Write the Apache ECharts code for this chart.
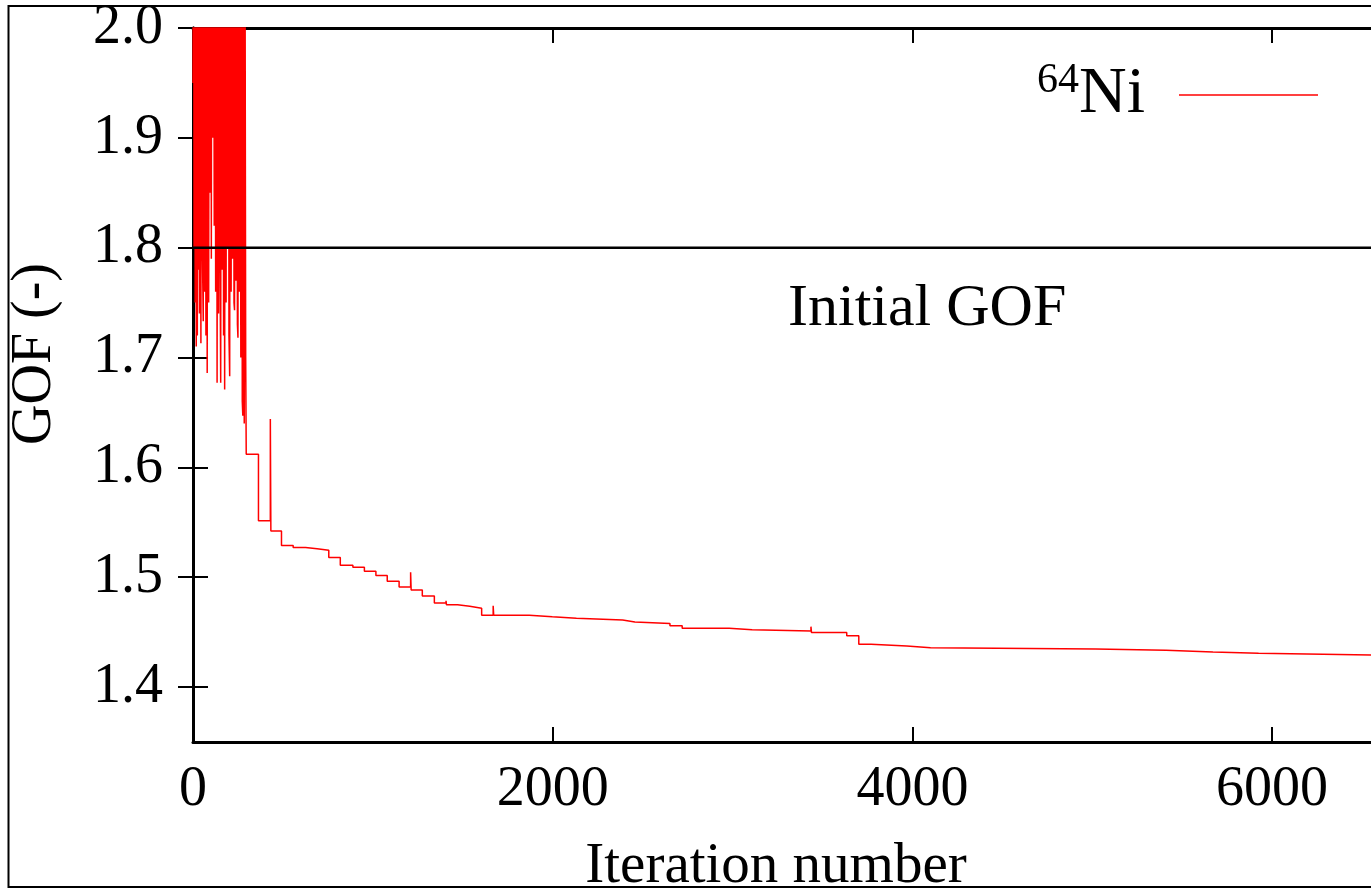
<!DOCTYPE html>
<html><head><meta charset="utf-8">
<script src="https://cdn.jsdelivr.net/npm/echarts@6/dist/echarts.min.js"></script>
<style>html,body{margin:0;padding:0;background:#fff}#c{width:1371px;height:889px}</style>
</head><body><div id="c"></div>
<script>
const seriesName = '64Ni';
const iterations = [
  0,3,6,9,12,15,18,21,24,27,30,33,36,40,44,48,52,57,60,64,68,72,76,79,83,87,91,94,98,102,
  106,110,114,118,122,126,130,134,138,142,146,150,154,158,162,166,170,173,176,180,184,188,192,196,200,204,208,212,216,220,
  224,228,231,235,239,243,247,250,254,258,262,266,270,274,277,281,285,289,293,
  296,364,430,433,492,557,626,690,755,819,889,953,1017,1080,1146,1210,1213,1275,1342,1407,1409,1471,1539,1605,1669,1672,1870,1998,2132,
  2389,2457,2652,2720,2849,2852,2981,3109,3436,3439,3635,3702,3770,3969,4101,5019,5410,5671,5925,6550
];
const gof = [
  1.95,2.30,1.80,2.40,1.75,2.20,1.71,2.50,1.72,2.30,1.78,2.40,1.74,2.20,1.713,2.30,1.80,1.733,2.40,1.76,2.20,1.72,2.30,1.686,2.40,1.75,2.20,1.85,2.30,1.79,
  2.50,1.90,2.30,1.82,2.20,1.76,2.40,1.677,2.30,1.74,2.20,1.80,1.677,2.30,1.78,2.40,1.72,2.20,1.671,2.30,1.75,2.20,1.80,2.40,1.72,1.683,2.30,1.76,2.20,1.79,
  2.30,1.75,1.743,2.30,1.77,2.20,1.73,1.718,2.30,1.76,2.20,1.70,2.30,1.66,1.647,2.20,1.64,2.10,1.70,
  1.612,1.5515,1.644,1.542,1.529,1.527,1.526,1.5245,1.518,1.511,1.509,1.5055,1.5015,1.4963,1.491,1.5046,1.4884,1.483,1.4766,1.4785,1.475,1.4736,1.4718,1.4654,1.474,1.4654,1.464,1.4627,1.4611,
  1.4593,1.4578,1.4559,1.4535,1.4545,1.4535,1.4523,1.4511,1.455,1.4496,1.4467,1.439,1.4374,1.4359,1.4347,1.4335,1.432,1.4308,1.4292,1.4292
];
const initialGOF = 1.8;
const initialLabel = 'Initial GOF';
const xTicks = [0, 2000, 4000, 6000];
const xTickLabels = ['0', '2000', '4000', '6000'];
const yTicks = [1.4, 1.5, 1.6, 1.7, 1.8, 1.9, 2.0];
const yTickLabels = ['1.4', '1.5', '1.6', '1.7', '1.8', '1.9', '2.0'];
const xTitle = 'Iteration number';
const yTitle = 'GOF (-)';

const FONT = 'Liberation Serif';
const xMin = 0, xMax = 6550, yMin = 1.35, yMax = 2.0;

const lineData = iterations.map((it, i) => [it, gof[i]]);
const refData = [[xMin, initialGOF], [xMax, initialGOF]];

function lbl(ticks, labels) {
  return v => {
    const i = ticks.findIndex(t => Math.abs(t - v) < 1e-6);
    return i >= 0 ? labels[i] : '';
  };
}

const chart = echarts.init(document.getElementById('c'), null, {renderer: 'canvas'});
const axisLine = {show: true, lineStyle: {color: '#000', width: 3}};
const tickStyle = {color: '#000', width: 2};

chart.setOption({
  animation: false,
  backgroundColor: '#fff',
  grid: {left: 193, top: 28, right: -11, bottom: 147, containLabel: false},
  xAxis: [{
    type: 'value', min: xMin, max: xMax, position: 'bottom',
    axisLine: axisLine,
    axisTick: {show: true, inside: true, length: 15, lineStyle: tickStyle, customValues: xTicks},
    axisLabel: {show: true, margin: 20, customValues: xTicks, formatter: lbl(xTicks, xTickLabels),
      fontFamily: FONT, fontSize: 56, color: '#000'},
    splitLine: {show: false}
  }, {
    type: 'value', min: xMin, max: xMax, position: 'top',
    axisLine: axisLine,
    axisTick: {show: true, inside: true, length: 15, lineStyle: tickStyle, customValues: xTicks},
    axisLabel: {show: false},
    splitLine: {show: false}
  }],
  yAxis: [{
    type: 'value', min: yMin, max: yMax, position: 'left',
    axisLine: axisLine,
    axisTick: {show: true, inside: true, length: 15, lineStyle: tickStyle, customValues: yTicks},
    axisLabel: {show: true, margin: 30, customValues: yTicks, formatter: lbl(yTicks, yTickLabels),
      fontFamily: FONT, fontSize: 56, color: '#000'},
    splitLine: {show: false}
  }, {
    type: 'value', min: yMin, max: yMax, position: 'right',
    axisLine: axisLine,
    axisTick: {show: true, inside: true, length: 15, lineStyle: tickStyle, customValues: yTicks},
    axisLabel: {show: false},
    splitLine: {show: false}
  }],
  legend: {
    data: [{name: seriesName, icon: 'rect'}],
    left: 1032, top: 55,
    align: 'right',
    itemWidth: 139, itemHeight: 1.5,
    formatter: () => '{s|64}{n|Ni}',
    textStyle: {
      color: '#000',
      rich: {
        s: {fontFamily: FONT, fontSize: 42, color: '#000', padding: [0, 0, 28, 0]},
        n: {fontFamily: FONT, fontSize: 66, color: '#000', padding: [0, 29, 0, 0]}
      }
    }
  },
  graphic: [
    {type: 'rect', silent: true, shape: {x: 8.5, y: 6, width: 1420, height: 881},
      style: {fill: 'none', stroke: '#000', lineWidth: 2}},
    {type: 'text', silent: true, x: 788, y: 309,
      style: {text: initialLabel, font: '60px "Liberation Serif"', fill: '#000', verticalAlign: 'middle', align: 'left'}},
    {type: 'text', silent: true, x: 776, y: 867,
      style: {text: xTitle, font: '57px "Liberation Serif"', fill: '#000', verticalAlign: 'middle', align: 'center'}},
    {type: 'text', silent: true, x: 35, y: 354, rotation: Math.PI / 2,
      style: {text: yTitle, font: '56px "Liberation Serif"', fill: '#000', verticalAlign: 'middle', align: 'center'}}
  ],
  series: [{
    name: seriesName, type: 'line', data: lineData, step: 'end',
    showSymbol: false, symbol: 'none', clip: true,
    lineStyle: {color: '#ff0000', width: 1.5}, itemStyle: {color: '#ff0000'}, z: 2
  }, {
    name: 'initial', type: 'line', data: refData,
    showSymbol: false, symbol: 'none', clip: true,
    lineStyle: {color: '#000', width: 2.5}, itemStyle: {color: '#000'}, z: 3
  }]
});
</script></body></html>
